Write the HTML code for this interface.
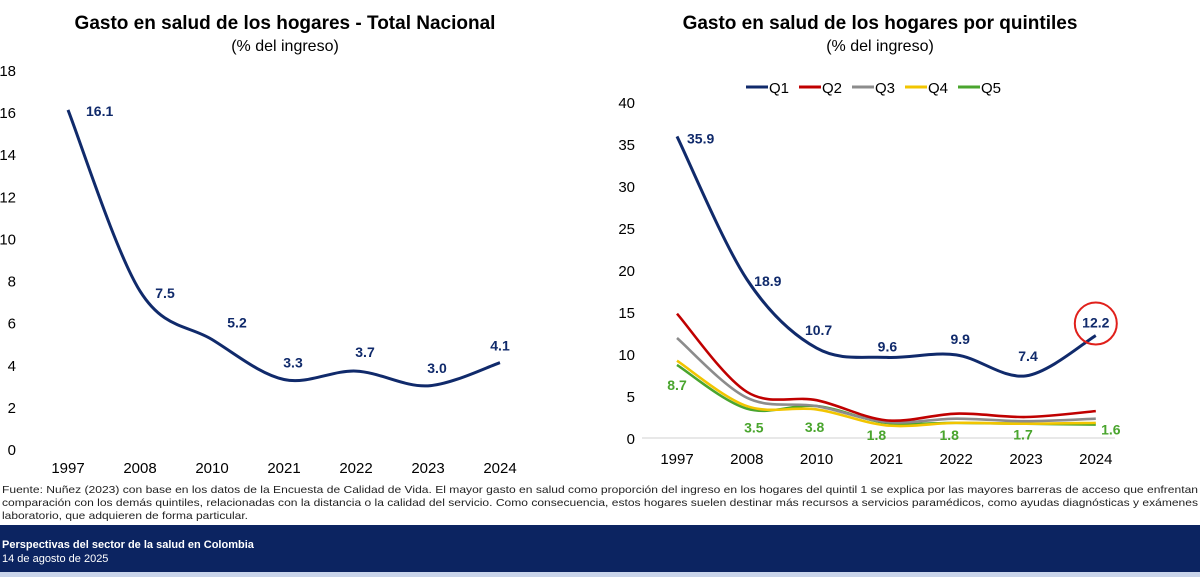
<!DOCTYPE html>
<html><head><meta charset="utf-8">
<style>
body{margin:0;width:1200px;height:577px;background:#fff;overflow:hidden;font-family:"Liberation Sans",sans-serif;}
svg{position:absolute;left:0;top:0}
</style></head><body>
<svg width="1200" height="577" font-family="Liberation Sans, sans-serif">
<text x="285" y="29" text-anchor="middle" font-size="19" font-weight="bold">Gasto en salud de los hogares - Total Nacional</text>
<text x="285" y="51" text-anchor="middle" font-size="16">(% del ingreso)</text>
<text x="880" y="29" text-anchor="middle" font-size="19" font-weight="bold">Gasto en salud de los hogares por quintiles</text>
<text x="880" y="51" text-anchor="middle" font-size="16">(% del ingreso)</text>
<g id="left"></g>
<g id="right"></g>
<g id="legend"></g>
<text font-size="10.5" fill="#222">
<tspan x="2" y="493" textLength="1196" lengthAdjust="spacingAndGlyphs">Fuente: Nuñez (2023) con base en los datos de la Encuesta de Calidad de Vida. El mayor gasto en salud como proporción del ingreso en los hogares del quintil 1 se explica por las mayores barreras de acceso que enfrentan</tspan>
<tspan x="2" y="506" textLength="1196" lengthAdjust="spacingAndGlyphs">comparación con los demás quintiles, relacionadas con la distancia o la calidad del servicio. Como consecuencia, estos hogares suelen destinar más recursos a servicios paramédicos, como ayudas diagnósticas y exámenes</tspan>
<tspan x="2" y="519" textLength="246" lengthAdjust="spacingAndGlyphs">laboratorio, que adquieren de forma particular.</tspan>
</text>
<rect x="0" y="525" width="1200" height="48" fill="#0c2461"/>
<rect x="0" y="572" width="1200" height="5" fill="#c9d4ea"/>
<text x="2" y="548" font-size="11" font-weight="bold" fill="#fff">Perspectivas del sector de la salud en Colombia</text>
<text x="2" y="562" font-size="11" fill="#fff">14 de agosto de 2025</text>
</svg>
<script>
const years=["1997","2008","2010","2021","2022","2023","2024"];
const totalVals=[16.1,7.5,5.2,3.3,3.7,3.0,4.1];
const leftTicks=[0,2,4,6,8,10,12,14,16,18];
const q1=[35.9,18.9,10.7,9.6,9.9,7.4,12.2];
const q2=[14.8,5.5,4.5,2.1,2.9,2.5,3.2];
const q3=[11.9,4.8,3.8,1.9,2.3,2.0,2.3];
const q4=[9.2,3.8,3.4,1.5,1.8,1.7,1.8];
const q5=[8.7,3.5,3.8,1.8,1.8,1.7,1.6];
const rightTicks=[0,5,10,15,20,25,30,35,40];
const seriesNames=["Q1","Q2","Q3","Q4","Q5"];
const NS="http://www.w3.org/2000/svg";
function mk(p,t,a){const e=document.createElementNS(NS,t);for(const k in a)e.setAttribute(k,a[k]);p.appendChild(e);return e;}
function smooth(pts){let d=`M${pts[0][0]},${pts[0][1]}`;for(let i=0;i<pts.length-1;i++){const p0=pts[Math.max(0,i-1)],p1=pts[i],p2=pts[i+1],p3=pts[Math.min(pts.length-1,i+2)];const t=6;d+=` C${p1[0]+(p2[0]-p0[0])/t},${p1[1]+(p2[1]-p0[1])/t} ${p2[0]-(p3[0]-p1[0])/t},${p2[1]-(p3[1]-p1[1])/t} ${p2[0]},${p2[1]}`;}return d;}
// left chart
const L=document.getElementById('left');
const lx=i=>68+i*72, ly=v=>449-v*21.06;
leftTicks.forEach(t=>{const e=mk(L,'text',{x:16,y:ly(t)+6,'text-anchor':'end','font-size':15});e.textContent=t;

});
years.forEach((y,i)=>{const e=mk(L,'text',{x:lx(i),y:473,'text-anchor':'middle','font-size':15});e.textContent=y;

});
const lp=mk(L,'path',{d:smooth(totalVals.map((v,i)=>[lx(i),ly(v)])),fill:'none',stroke:'#102a6b','stroke-width':3});


const lOff=[[18,6],[25,7],[25,-12],[9,-12],[9,-14],[9,-13],[0,-12]];
totalVals.forEach((v,i)=>{const e=mk(L,'text',{x:lx(i)+lOff[i][0],y:ly(v)+lOff[i][1],'text-anchor':i==0?'start':'middle','font-size':14,'font-weight':'bold',fill:'#102a6b'});e.textContent=v.toFixed(1);

});
// right chart
const R=document.getElementById('right');
const rx=i=>677+i*69.8, ry=v=>438-v*8.4;
mk(R,'line',{x1:642,x2:1115,y1:438,y2:438,stroke:'#d0d0d0','stroke-width':1});
rightTicks.forEach(t=>{const e=mk(R,'text',{x:635,y:ry(t)+6,'text-anchor':'end','font-size':15});e.textContent=t;

});
years.forEach((y,i)=>{const e=mk(R,'text',{x:rx(i),y:464,'text-anchor':'middle','font-size':15});e.textContent=y;

});
const all=[q1,q2,q3,q4,q5], cols=['#102a6b','#c00000','#8c8c8c','#f2c500','#4aa52e'];
for(let s=4;s>=0;s--){const p=mk(R,'path',{d:smooth(all[s].map((v,i)=>[rx(i),ry(v)])),fill:'none',stroke:cols[s],'stroke-width':s==0?3:2.6});

}
const q1Off=[[10,7],[21,7],[2,-13],[1,-6],[4,-11],[2,-15],[0,-8]];
q1.forEach((v,i)=>{const e=mk(R,'text',{x:rx(i)+q1Off[i][0],y:ry(v)+q1Off[i][1],'text-anchor':i==0?'start':'middle','font-size':14,'font-weight':'bold',fill:'#102a6b'});e.textContent=v.toFixed(1);

});
const q5Off=[[0,25],[7,24],[-2,26],[-10,17],[-7,17],[-3,16],[15,10]];
q5.forEach((v,i)=>{const e=mk(R,'text',{x:rx(i)+q5Off[i][0],y:ry(v)+q5Off[i][1],'text-anchor':'middle','font-size':14,'font-weight':'bold',fill:'#4aa52e'});e.textContent=v.toFixed(1);

});
const c=mk(R,'circle',{cx:rx(6),cy:ry(q1[6])-12,r:21,fill:'none',stroke:'#e0201b','stroke-width':2});


// legend
const G=document.getElementById('legend');
seriesNames.forEach((n,s)=>{const x0=746+s*53;mk(G,'line',{x1:x0,x2:x0+22,y1:87,y2:87,stroke:cols[s],'stroke-width':3});const e=mk(G,'text',{x:x0+23,y:93,'font-size':15});e.textContent=n;

});
</script>
</body></html>
